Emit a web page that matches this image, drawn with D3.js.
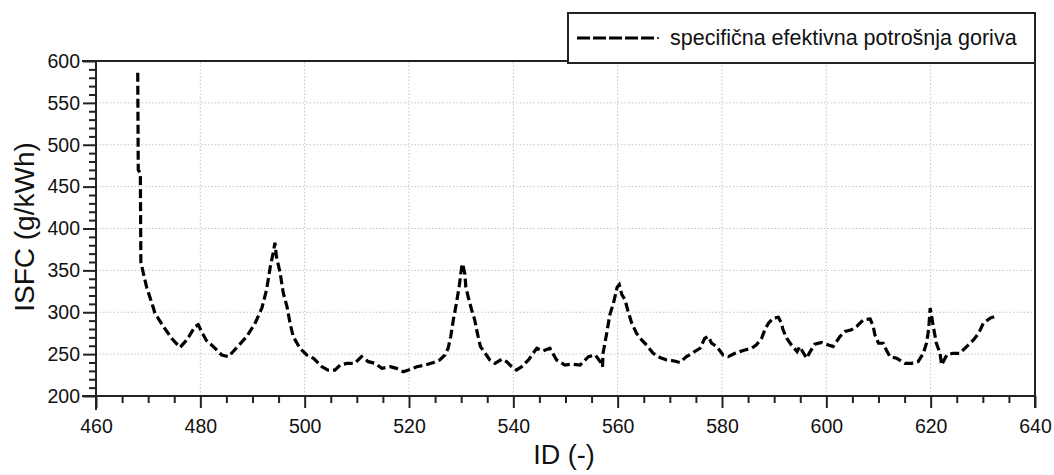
<!DOCTYPE html>
<html>
<head>
<meta charset="utf-8">
<script src="https://cdn.jsdelivr.net/npm/d3@7"></script>
<style>
  body { margin: 0; background: #fff; }
  svg { display: block; font-family: "Liberation Sans", Arial, sans-serif; }
  .grid line { stroke: #c4c4c4; stroke-width: 1; stroke-dasharray: 1.5,2; }
  .axis path, .axis line { stroke: #222; stroke-width: 2; }
  .axis text { font-size: 19.5px; fill: #111; }
</style>
</head>
<body>
<svg id="chart" width="1054" height="475"></svg>
<script>
// ID (-) and ISFC (g/kWh)
const ids = [
  468.0, 468.1, 468.5, 468.6, 469.1, 469.7, 470.7, 471.3, 472.9, 474.5, 476.1, 477.4, 479.0, 479.6,
  480.3, 481.2, 482.5, 484.1, 485.4, 487.0, 488.9, 490.5, 491.8, 492.7, 493.4, 494.0, 494.3, 494.6,
  495.3, 495.9, 496.6, 497.2, 497.8, 499.1, 500.4, 501.7, 503.3, 504.5, 505.8, 506.8, 508.1, 509.6,
  510.9, 512.2, 513.5, 514.8, 516.4, 517.6, 518.9, 519.9, 521.5, 523.1, 524.7, 525.9, 526.9, 527.5,
  528.0, 528.5, 529.1, 529.6, 530.1, 530.3, 530.7, 530.9, 531.4, 532.0, 532.6, 533.1, 533.7, 534.6,
  535.5, 536.5, 537.8, 538.7, 539.7, 540.6, 541.6, 542.9, 543.8, 544.5, 545.7, 547.0, 548.3, 549.9,
  551.2, 552.8, 554.4, 555.7, 556.9, 557.1, 557.2, 557.9, 558.5, 559.2, 559.9, 560.3, 560.8, 561.4,
  562.0, 562.7, 563.6, 564.6, 565.5, 566.8, 568.1, 569.4, 570.7, 571.9, 573.2, 574.5, 575.8, 576.7,
  577.4, 578.0, 579.0, 580.2, 581.2, 582.5, 583.4, 584.4, 585.7, 586.6, 587.6, 588.2, 588.9, 589.8,
  590.8, 591.4, 591.7, 592.4, 593.3, 594.4, 594.9, 596.2, 596.9, 597.8, 599.1, 600.4, 601.3, 602.6,
  603.6, 604.8, 605.8, 607.1, 608.4, 609.0, 609.3, 610.0, 610.9, 611.5, 612.2, 613.5, 615.1, 616.3,
  617.6, 618.6, 619.2, 619.5, 619.7, 619.9, 620.2, 620.5, 621.1, 621.8, 622.1, 623.1, 624.3, 625.6,
  626.9, 628.2, 629.2, 630.1, 631.4, 632.3
];
const isfc = [
  586, 470, 466, 360, 346, 330, 311, 299, 283, 269, 258, 267, 283, 285,
  276, 266, 259, 249, 247, 258, 271, 287, 305, 327, 354, 372, 383, 366,
  347, 323, 307, 287, 271, 257, 249, 245, 235, 231, 231, 237, 239, 239,
  247, 241, 239, 233, 235, 233, 229, 231, 235, 237, 240, 243, 249, 257,
  271, 291, 311, 330, 354, 358, 346, 330, 317, 303, 291, 275, 259, 251,
  243, 239, 244, 241, 235, 231, 235, 243, 251, 257, 254, 257, 243, 237,
  238, 237, 247, 249, 239, 235, 251, 275, 297, 311, 330, 333, 321, 315,
  301, 287, 275, 267, 261, 251, 246, 243, 242, 240, 247, 252, 257, 269,
  271, 263, 259, 249, 247, 251, 253, 255, 257, 261, 269, 279, 287, 293,
  294, 287, 279, 269, 261, 253, 259, 245, 253, 262, 264, 261, 259, 271,
  277, 279, 283, 291, 292, 283, 273, 263, 263, 255, 247, 245, 239, 239,
  241, 251, 263, 275, 287, 305, 295, 283, 263, 251, 237, 249, 251, 251,
  259, 267, 275, 287, 293, 295
];

const xTicks = [460, 480, 500, 520, 540, 560, 580, 600, 620, 640];
const yTicks = [200, 250, 300, 350, 400, 450, 500, 550, 600];
const seriesName = 'specifična efektivna potrošnja goriva';

const svg = d3.select('#chart');
const margin = { left: 96, right: 19, top: 61, bottom: 79 };
const W = 1054, H = 475;

const x = d3.scaleLinear().domain([460, 640]).range([margin.left, W - margin.right]);
const y = d3.scaleLinear().domain([200, 600]).range([H - margin.bottom, margin.top]);

// grid
svg.append('g').attr('class', 'grid')
  .selectAll('line.v').data(xTicks.slice(1, -1)).join('line')
  .attr('x1', d => x(d)).attr('x2', d => x(d))
  .attr('y1', y(200)).attr('y2', y(600));
svg.append('g').attr('class', 'grid')
  .selectAll('line.h').data(yTicks.slice(1, -1)).join('line')
  .attr('x1', x(460)).attr('x2', x(640))
  .attr('y1', d => y(d)).attr('y2', d => y(d));

// minor ticks
const xMinor = d3.range(460, 641, 5).filter(v => !xTicks.includes(v));
const yMinor = d3.range(200, 601, 10).filter(v => !yTicks.includes(v));

svg.append('g').attr('class', 'axis')
  .attr('transform', `translate(0,${y(200)})`)
  .call(d3.axisBottom(x).tickValues(xMinor).tickSize(7).tickFormat(''))
  .call(g => g.select('.domain').remove());
svg.append('g').attr('class', 'axis')
  .attr('transform', `translate(${x(460)},0)`)
  .call(d3.axisLeft(y).tickValues(yMinor).tickSize(7).tickFormat(''))
  .call(g => g.select('.domain').remove());

// major axes
svg.append('g').attr('class', 'axis')
  .attr('transform', `translate(0,${y(200)})`)
  .call(d3.axisBottom(x).tickValues(xTicks).tickSize(12).tickSizeOuter(0).tickPadding(11))
  .call(g => g.select('.domain').attr('d', `M${x(460) - 14},0H${x(640)}`));
svg.append('g').attr('class', 'axis')
  .attr('transform', `translate(${x(460)},0)`)
  .call(d3.axisLeft(y).tickValues(yTicks).tickSize(13).tickSizeOuter(0).tickPadding(3))
  .call(g => g.select('.domain').attr('d', `M0,${y(200) + 14}V${y(600)}`));

// frame top / right
svg.append('path')
  .attr('d', `M${x(460) - 14},${y(600)}H${x(640)}V${y(200) + 12}`)
  .attr('fill', 'none').attr('stroke', '#222').attr('stroke-width', 2);

// series
const pts = ids.map((d, i) => [d, isfc[i]]);
svg.append('path')
  .datum(pts)
  .attr('fill', 'none')
  .attr('stroke', '#000')
  .attr('stroke-width', 3.2)
  .attr('stroke-dasharray', '9,4')
  .attr('d', d3.line().x(d => x(d[0])).y(d => y(d[1])));

// axis titles
svg.append('text')
  .attr('x', 564).attr('y', 464)
  .attr('text-anchor', 'middle').attr('font-size', 27).attr('fill', '#111')
  .text('ID (-)');
svg.append('text')
  .attr('transform', `translate(34,227) rotate(-90)`)
  .attr('text-anchor', 'middle').attr('font-size', 28).attr('fill', '#111')
  .text('ISFC (g/kWh)');

// legend
const lg = svg.append('g');
lg.append('rect')
  .attr('x', 568).attr('y', 13).attr('width', x(640) - 568).attr('height', 50)
  .attr('fill', '#fff').attr('stroke', '#222').attr('stroke-width', 2);
lg.append('line')
  .attr('x1', 577).attr('x2', 654).attr('y1', 38).attr('y2', 38)
  .attr('stroke', '#000').attr('stroke-width', 3.2).attr('stroke-dasharray', '13,3');
lg.append('circle').attr('cx', 658).attr('cy', 38).attr('r', 1).attr('fill', '#000');
lg.append('text')
  .attr('x', 670).attr('y', 45)
  .attr('font-size', 21.5).attr('fill', '#111')
  .text(seriesName);
</script>
</body>
</html>
